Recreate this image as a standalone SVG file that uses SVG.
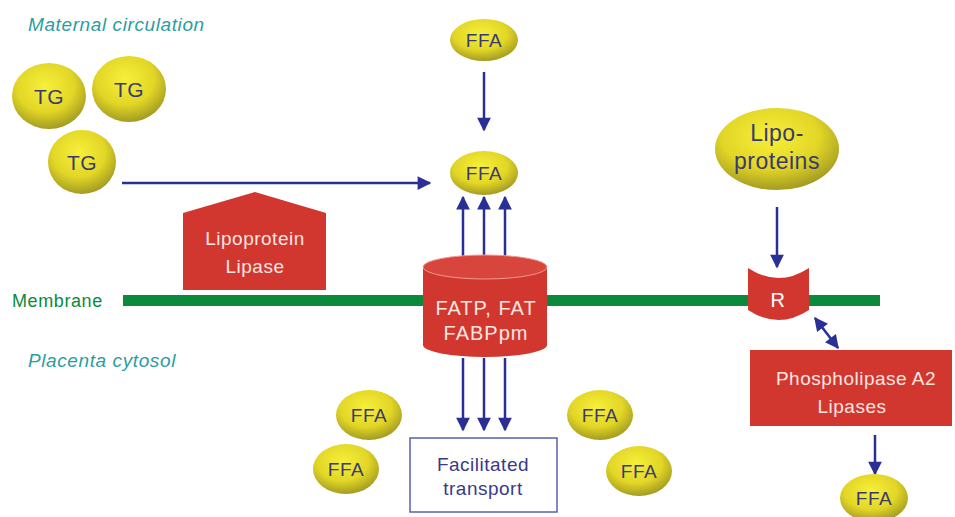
<svg xmlns="http://www.w3.org/2000/svg" width="955" height="517" viewBox="0 0 955 517">
<defs>
<radialGradient id="yg" cx="0.45" cy="0.35" r="0.65">
<stop offset="0" stop-color="#f7ef3a"/>
<stop offset="0.6" stop-color="#e2d626"/>
<stop offset="1" stop-color="#a39c22"/>
</radialGradient>
<marker id="ah" viewBox="0 0 10 10" refX="9" refY="5" markerWidth="6" markerHeight="5.5" orient="auto-start-reverse" markerUnits="strokeWidth">
<path d="M0,0 L10,5 L0,10 Z" fill="#2a2f95"/>
</marker>
<style>
.y{fill:url(#yg);}
.yt{font-family:"Liberation Sans",Arial,sans-serif;font-size:19px;fill:#3a3a70;text-anchor:middle;letter-spacing:0.5px;}
.red{fill:#d2372f;}
.wt{font-family:"Liberation Sans",Arial,sans-serif;font-size:19px;fill:#fbe6e0;text-anchor:middle;letter-spacing:0.5px;}
.lab{font-family:"Liberation Sans",Arial,sans-serif;font-size:19px;font-style:italic;fill:#2a9ea0;letter-spacing:0.6px;}
.arr{stroke:#2a2f95;stroke-width:2.5;fill:none;marker-end:url(#ah);}
</style>
</defs>
<rect width="955" height="517" fill="#ffffff"/>

<text class="lab" x="28" y="31">Maternal circulation</text>
<text class="lab" x="28" y="367">Placenta cytosol</text>

<g id="membrane">
<rect x="123" y="295" width="757" height="11" fill="#0b8a3c"/>
<text x="12" y="307" font-family="Liberation Sans, Arial, sans-serif" font-size="18" letter-spacing="0.6" fill="#0b8a3c">Membrane</text>
</g>

<g id="connectors">
<line class="arr" x1="122" y1="183" x2="430" y2="183"/>
<line class="arr" x1="484" y1="72" x2="484" y2="130"/>
<line class="arr" x1="463" y1="256" x2="463" y2="197"/>
<line class="arr" x1="484" y1="256" x2="484" y2="197"/>
<line class="arr" x1="505" y1="256" x2="505" y2="197"/>
<line class="arr" x1="463" y1="358" x2="463" y2="430"/>
<line class="arr" x1="484" y1="358" x2="484" y2="430"/>
<line class="arr" x1="505" y1="358" x2="505" y2="430"/>
<line class="arr" x1="777" y1="207" x2="777" y2="267"/>
<line class="arr" x1="815" y1="318" x2="838" y2="348" marker-start="url(#ah)"/>
<line class="arr" x1="875" y1="435" x2="875" y2="474"/>
</g>

<g id="tg1"><ellipse class="y" cx="49" cy="96" rx="37" ry="33"/><text class="yt" x="49" y="104" style="font-size:21px">TG</text></g>
<g id="tg2"><ellipse class="y" cx="129" cy="89" rx="37" ry="33"/><text class="yt" x="129" y="97" style="font-size:21px">TG</text></g>
<g id="tg3"><ellipse class="y" cx="82" cy="162" rx="34" ry="32"/><text class="yt" x="82" y="170" style="font-size:21px">TG</text></g>

<g id="ffa-top"><ellipse class="y" cx="484" cy="40" rx="34" ry="21"/><text class="yt" x="484" y="47">FFA</text></g>
<g id="ffa-mid"><ellipse class="y" cx="484" cy="173" rx="34" ry="22"/><text class="yt" x="484" y="180">FFA</text></g>

<g id="lpl">
<path class="red" d="M183,213 L255,192 L326,213 L326,290 L183,290 Z"/>
<text class="wt" x="255" y="245">Lipoprotein</text>
<text class="wt" x="255" y="273">Lipase</text>
</g>

<g id="fatp">
<path class="red" d="M423,267 L423,345 A62,12 0 0 0 547,345 L547,267 Z"/>
<ellipse cx="485" cy="267" rx="62" ry="12" fill="#d8453d" stroke="#f09a90" stroke-width="1"/>
<text class="wt" x="486" y="315" style="font-size:20px;letter-spacing:1px">FATP, FAT</text>
<text class="wt" x="486" y="340" style="font-size:20px;letter-spacing:1px">FABPpm</text>
</g>

<g id="facilitated">
<rect x="410" y="438" width="147" height="74" fill="#ffffff" stroke="#5a5fb0" stroke-width="1.5"/>
<text class="yt" x="483" y="471" style="fill:#3a3a8a">Facilitated</text>
<text class="yt" x="483" y="495" style="fill:#3a3a8a">transport</text>
</g>

<g id="ffa1"><ellipse class="y" cx="369" cy="415" rx="33" ry="25"/><text class="yt" x="369" y="422">FFA</text></g>
<g id="ffa2"><ellipse class="y" cx="346" cy="469" rx="33" ry="25"/><text class="yt" x="346" y="476">FFA</text></g>
<g id="ffa3"><ellipse class="y" cx="600" cy="415" rx="33" ry="25"/><text class="yt" x="600" y="422">FFA</text></g>
<g id="ffa4"><ellipse class="y" cx="639" cy="471" rx="33" ry="25"/><text class="yt" x="639" y="478">FFA</text></g>

<g id="lipoproteins">
<ellipse class="y" cx="777" cy="149" rx="62" ry="41"/>
<text class="yt" x="777" y="141" style="font-size:23px">Lipo-</text>
<text class="yt" x="777" y="169" style="font-size:23px">proteins</text>
</g>

<g id="receptor">
<path class="red" d="M748,268 Q778.5,288 809,268 L809,310 Q778.5,330 748,310 Z"/>
<text class="wt" x="778" y="307" style="fill:#ffffff;font-size:20px">R</text>
</g>

<g id="phospholipase">
<rect class="red" x="750" y="350" width="202" height="76"/>
<text class="wt" x="856" y="385">Phospholipase A2</text>
<text class="wt" x="852" y="413">Lipases</text>
</g>

<g id="ffa-bottom"><ellipse class="y" cx="874" cy="498" rx="34" ry="24"/><text class="yt" x="874" y="505">FFA</text></g>
</svg>
